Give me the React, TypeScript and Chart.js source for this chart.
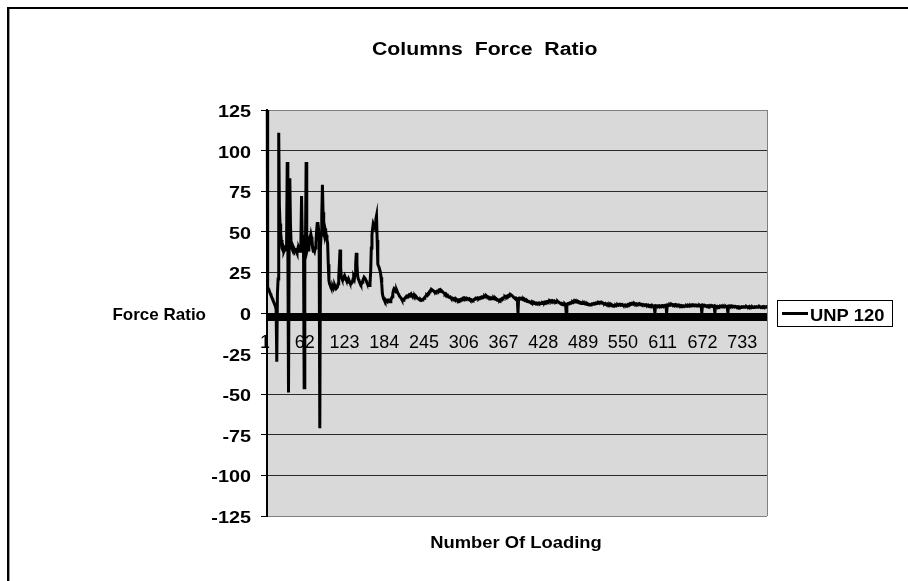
import React, { useEffect, useRef } from 'react';
import { Chart, registerables } from 'chart.js';

Chart.register(...registerables);

const chartTitle = 'Columns Force Ratio';
const yAxisTitle = 'Force Ratio';
const xAxisTitle = 'Number Of Loading';
const seriesName = 'UNP 120';

// Loading 1 - 100
const forceRatioA = [
  125, 16, 15, 14, 13, 12, 11, 10, 9, 8, 7, 6, 5, 4, 2, -30, 12, 21, 111, 66,
  55, 49, 45, 40, 39, 40, 38, 39, 40, 38, 41, 93, 40, -49, 42, 83, 55, 42, 40, 39,
  41, 40, 38, 39, 40, 38, 37, 39, 38, 40, 39, 38, 44, 72, 48, 40, 42, -46, 45, 41,
  93, 48, 40, 42, 38, 44, 46, 42, 47, 45, 40, 38, 39, 38, 40, 43, 50, 55, 56, 52,
  45, -71, 40, 48, 60, 79, 62, 50, 48, 52, 50, 48, 45, 43, 30, 20, 18, 17, 16, 16,
];
// Loading 101 - 200
const forceRatioB = [
  15, 16, 15, 16, 17, 16, 15, 15, 16, 18, 22, 30, 39, 28, 22, 21, 20, 21, 22, 23,
  22, 21, 20, 19, 20, 21, 20, 19, 19, 18, 18, 19, 21, 22, 21, 24, 30, 37, 30, 23,
  21, 20, 19, 19, 18, 18, 19, 20, 21, 22, 22, 21, 20, 19, 18, 17, 17, 17, 18, 25,
  40, 48, 52, 55, 54, 53, 54, 58, 60, 45, 30, 29, 28, 28, 25, 22, 18, 12, 10, 9,
  9, 8, 8, 8, 8, 7, 8, 8, 8, 7, 8, 9, 10, 12, 14, 15, 15, 14, 13, 14,
];
// Loading 201 - 400
const forceRatioC = [
  13, 12, 11.5, 10.5, 10, 9.5, 9, 8.2, 8, 7.8, 8.3, 9, 9.4, 9.8, 10.3, 9.9, 10.2, 10.8, 11.2, 10.9,
  11.3, 11.8, 11.1, 10.7, 11, 10.4, 10.1, 10.3, 9.6, 9.2, 9.5, 9, 8.8, 8.5, 8.1, 7.9, 8.2, 7.8, 8, 8.3,
  8.6, 9.1, 9.7, 10.2, 10.6, 11.1, 10.8, 11.7, 12.4, 12.9, 13.6, 14.1, 13.8, 14.3, 14, 13.7, 13.4, 12.9, 13.1, 12.8,
  13.2, 12.9, 13.3, 13.8, 14.2, 13.9, 14.4, 14.1, 13.7, 13.2, 12.8, 12.4, 12.1, 11.6, 11.9, 11.2, 10.8, 11, 10.4, 10.1,
  9.7, 9.9, 9.3, 9, 9.2, 8.8, 8.6, 8.9, 8.4, 8.1, 7.9, 8.2, 7.8, 8, 7.7, 8.1, 7.9, 8.3, 8.6, 8.4,
  8.8, 9.2, 8.9, 9.3, 9.1, 8.8, 9.2, 9, 8.7, 8.5, 8.8, 8.3, 8, 7.8, 8.1, 7.9, 7.7, 8, 8.4, 8.7,
  9.1, 8.8, 9.2, 9.4, 9, 8.9, 9.3, 9.1, 9.5, 9.8, 9.4, 9.9, 10.2, 10, 10.3, 9.9, 10.1, 10.4, 10, 9.6,
  9.8, 9.4, 9.1, 9.3, 8.9, 9.2, 9, 8.7, 9.1, 8.6, 8.4, 8.7, 8.2, 7.9, 8.1, 7.8, 8, 7.7, 8.1, 8.4,
  8.7, 9.1, 8.9, 9.4, 9.7, 10.1, 9.8, 10.2, 10, 10.5, 10.8, 10.6, 11.1, 10.9, 11.3, 11, 10.7, 10.3, 9.8, 9.5,
  9.1, 8.8, 9.2, 8.9, 8.6, 0, 8.8, 9.2, 9, 8.7, 9.1, 8.8, 8.5, 8.2, 8.4, 7.9, 7.6, 7.8, 7.4, 7.1,
];
// Loading 401 - 600
const forceRatioD = [
  7.3, 6.9, 7.1, 6.8, 6.5, 6.7, 6.3, 6.1, 6.4, 6, 5.8, 6.2, 5.9, 6.1, 5.8, 6, 6.2, 5.9, 6.1, 5.8,
  6, 6.2, 5.9, 6.3, 6.1, 6.5, 6.3, 6.8, 6.6, 6.9, 7.1, 6.8, 7.2, 7, 7.4, 7.1, 7.5, 7.2, 7.6, 7.3,
  7.1, 7.4, 7, 6.8, 7.1, 6.9, 7.2, 6.8, 6.5, 6.2, 6, 5.7, 5.5, 5.3, 5.4, 5.1, 5.3, 5.6, 5.2, 0,
  5.4, 5.7, 5.5, 5.9, 6.2, 6, 6.3, 6.6, 6.4, 6.8, 6.5, 6.9, 7.1, 6.8, 7.2, 6.9, 6.6, 6.8, 6.4, 6.2,
  6.4, 6.1, 5.9, 6.2, 6, 5.8, 6.1, 5.7, 5.5, 5.8, 5.4, 5.2, 5.5, 5.1, 4.9, 5.2, 5, 5.3, 5.6, 5.4,
  5.7, 5.9, 5.6, 6, 6.2, 5.9, 6.1, 6.4, 6.2, 6.5, 6.3, 6.6, 6.4, 6.7, 6.5, 6.2, 6, 5.8, 5.6, 5.9,
  5.5, 5.3, 5.6, 5.2, 5, 4.8, 5.1, 4.7, 4.5, 4.8, 4.4, 4.2, 4.5, 4.3, 4.6, 4.8, 4.5, 4.9, 5.1, 4.8,
  5.2, 5, 4.8, 5.1, 4.9, 5.2, 4.8, 4.6, 4.9, 4.7, 5, 4.8, 4.6, 4.9, 5.3, 5.1, 5.5, 5.8, 5.6, 6,
  6.1, 5.8, 6, 5.7, 5.9, 5.6, 5.4, 5.7, 5.5, 5.3, 5.6, 5.8, 5.5, 5.2, 5.4, 5.1, 4.9, 5.2, 5, 4.8,
  5.1, 4.9, 5.1, 4.8, 4.6, 4.9, 4.7, 4.4, 4.6, 4.3, 4.5, 4.2, 4.4, 4.1, 4.3, 0, 4.2, 4.5, 4.3, 4.1,
];
// Loading 601 - 768
const forceRatioE = [
  4.4, 4.2, 4.5, 4.3, 4.1, 4.4, 4.6, 4.3, 4.5, 4.2, 4.4, 4.7, 4.5, 0, 4.6, 4.8, 4.6, 4.9, 5.1, 4.8,
  5, 5.2, 4.9, 5.1, 4.8, 5, 5.2, 4.9, 5.1, 4.9, 4.7, 4.9, 4.6, 4.8, 4.5, 4.3, 4.6, 4.4, 4.2, 4.4,
  4.1, 4.3, 4.5, 4.2, 4.4, 4.1, 4.3, 4.5, 4.2, 4.4, 4.6, 4.3, 4.5, 4.7, 4.5, 4.8, 4.6, 4.9, 4.7, 4.9,
  4.8, 4.6, 4.8, 4.5, 4.7, 4.4, 4.6, 0, 4.5, 4.3, 4.6, 4.4, 4.2, 4.5, 4.3, 4.5, 4.2, 4.4, 4.1, 4.3,
  4.1, 4.4, 4.2, 4, 4.3, 4.1, 4.3, 0, 4.2, 4, 3.8, 4.1, 3.9, 3.7, 4, 3.8, 4.1, 3.9, 3.7, 4,
  3.8, 4, 3.7, 3.9, 4.1, 3.8, 4, 0, 4.1, 4.3, 4, 4.2, 4.4, 4.1, 4.3, 4.2, 4, 3.8, 4.1, 3.9,
  3.7, 3.9, 3.6, 3.8, 3.5, 3.7, 3.4, 3.6, 3.8, 3.5, 3.7, 3.9, 3.6, 3.8, 4, 3.7, 3.9, 3.6, 3.8, 3.5,
  3.7, 3.4, 3.6, 3.3, 3.5, 3.7, 3.4, 3.6, 3.8, 3.5, 3.7, 3.9, 3.6, 3.8, 4, 3.7, 3.9, 3.6, 3.8, 3.6,
  3.8, 4, 3.7, 3.9, 3.6, 3.8, 4, 3.9,
];

const forceRatio = [...forceRatioA, ...forceRatioB, ...forceRatioC, ...forceRatioD, ...forceRatioE];
const categories = forceRatio.map((_, i) => String(i + 1));
const xTickLabels = ['1', '62', '123', '184', '245', '306', '367', '428', '489', '550', '611', '672', '733'];
const yTickValues = [125, 100, 75, 50, 25, 0, -25, -50, -75, -100, -125];

const FONT = "'Liberation Sans', Arial, sans-serif";

function drawText(
  ctx: CanvasRenderingContext2D,
  text: string,
  x: number,
  baseline: number,
  font: string,
  sx: number,
  align: 'left' | 'center' | 'right',
) {
  ctx.save();
  ctx.font = font;
  ctx.fillStyle = '#000';
  ctx.textAlign = 'left';
  ctx.textBaseline = 'alphabetic';
  const w = ctx.measureText(text).width * sx;
  const left = align === 'left' ? x : align === 'center' ? x - w / 2 : x - w;
  ctx.translate(left, baseline);
  ctx.scale(sx, 1);
  ctx.fillText(text, 0, 0);
  ctx.restore();
}

const decorPlugin = {
  id: 'decor',
  beforeDraw(chart: any) {
    const { ctx, chartArea: a } = chart;
    ctx.save();
    ctx.fillStyle = '#ffffff';
    ctx.fillRect(0, 0, chart.width, chart.height);
    ctx.fillStyle = '#d9d9d9';
    ctx.fillRect(a.left, a.top, a.right - a.left, a.bottom - a.top);
    // outer frame (top and left edges visible)
    ctx.fillStyle = '#000';
    ctx.fillRect(7, 7, chart.width - 7, 2);
    ctx.fillRect(7, 7, 2, chart.height - 7);
    ctx.fillStyle = '#9a9a9a';
    ctx.fillRect(9, 9, 1, chart.height - 9);
    ctx.restore();
  },
  beforeDatasetsDraw(chart: any) {
    const { ctx, chartArea: a } = chart;
    const xs = chart.scales.x;
    ctx.save();
    ctx.strokeStyle = '#808080';
    ctx.lineWidth = 1;
    ctx.beginPath();
    ctx.moveTo(a.right + 0.5, a.top);
    ctx.lineTo(a.right + 0.5, a.bottom);
    ctx.stroke();
    ctx.restore();
    xTickLabels.forEach((lab) => {
      const px = xs.getPixelForValue(Number(lab) - 1);
      drawText(ctx, lab, px - 2, 348, `18px ${FONT}`, 1, 'center');
    });
  },
  afterDraw(chart: any) {
    const { ctx } = chart;
    const ys = chart.scales.y;
    // title
    ctx.save();
    (ctx as any).wordSpacing = '5px';
    drawText(ctx, chartTitle, 372, 55, `bold 18px ${FONT}`, 1.18, 'left');
    ctx.restore();
    // y tick labels
    yTickValues.forEach((v) => {
      const py = ys.getPixelForValue(v);
      drawText(ctx, String(v), 251, py + 7, `bold 16.5px ${FONT}`, 1.2, 'right');
    });
    // axis titles
    drawText(ctx, yAxisTitle, 206, 320, `bold 17px ${FONT}`, 1, 'right');
    drawText(ctx, xAxisTitle, 516, 548, `bold 17px ${FONT}`, 1.08, 'center');
    // legend
    ctx.save();
    ctx.strokeStyle = '#000';
    ctx.lineWidth = 1;
    ctx.strokeRect(777.5, 300.5, 115, 26);
    ctx.lineWidth = 3;
    ctx.beginPath();
    ctx.moveTo(782, 313.5);
    ctx.lineTo(808, 313.5);
    ctx.stroke();
    ctx.restore();
    drawText(ctx, seriesName, 810, 320.5, `bold 17px ${FONT}`, 1.08, 'left');
  },
};

export default function App() {
  const canvasRef = useRef<HTMLCanvasElement | null>(null);

  useEffect(() => {
    const canvas = canvasRef.current;
    if (!canvas) return;
    const chart = new Chart(canvas, {
      type: 'line',
      data: {
        labels: categories,
        datasets: [
          {
            label: seriesName,
            data: forceRatio,
            borderColor: '#000',
            backgroundColor: '#000',
            borderWidth: 3,
            pointRadius: 0,
            tension: 0,
            fill: false,
          },
        ],
      },
      options: {
        responsive: false,
        animation: false,
        events: [],
        layout: { padding: { left: 267, right: 141, top: 110, bottom: 65 } },
        plugins: {
          legend: { display: false },
          title: { display: false },
          tooltip: { enabled: false },
        },
        scales: {
          x: {
            type: 'category',
            position: { y: 0 } as any,
            ticks: { display: false, autoSkip: false },
            grid: {
              display: true,
              drawOnChartArea: false,
              drawTicks: true,
              tickLength: 7,
              tickColor: '#000',
              lineWidth: 1,
            },
            border: { display: true, color: '#000', width: 1 },
            afterFit: (s: any) => {
              s.height = 0;
            },
          },
          y: {
            type: 'linear',
            position: 'left',
            min: -125,
            max: 125,
            ticks: { display: false, stepSize: 25 },
            grid: {
              color: (c: any) =>
                c.tick && Math.abs(c.tick.value) === 125 ? '#808080' : '#2a2a2a',
              lineWidth: 1,
              drawTicks: true,
              tickLength: 6,
              tickColor: '#000',
            },
            border: { display: true, color: '#000', width: 2 },
            afterFit: (s: any) => {
              s.width = 0;
            },
          },
        },
      } as any,
      plugins: [decorPlugin],
    });
    return () => chart.destroy();
  }, []);

  return (
    <div style={{ position: 'fixed', left: 0, top: 0, width: 908, height: 581, overflow: 'hidden', background: '#fff' }}>
      <canvas ref={canvasRef} width={908} height={581} style={{ display: 'block' }} />
    </div>
  );
}
